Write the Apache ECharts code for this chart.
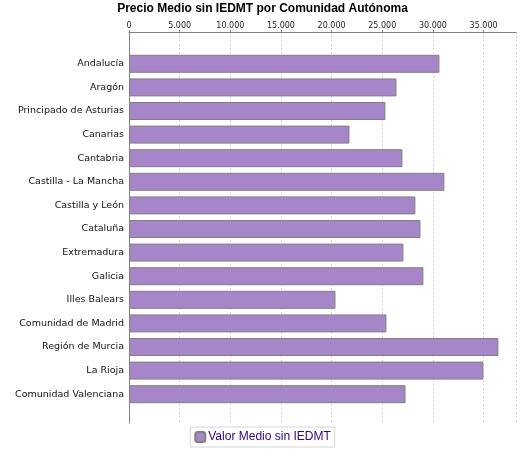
<!DOCTYPE html>
<html>
<head>
<meta charset="utf-8">
<script src="https://cdn.jsdelivr.net/npm/echarts@6/dist/echarts.min.js"></script>
<style>
  html, body { margin: 0; padding: 0; background: #fff; }
  #chart { width: 525px; height: 450px; }
</style>
</head>
<body>
<div id="chart"></div>
<script>
// datos
const comunidades = [
  'Andalucía', 'Aragón', 'Principado de Asturias', 'Canarias', 'Cantabria',
  'Castilla - La Mancha', 'Castilla y León', 'Cataluña', 'Extremadura', 'Galicia',
  'Illes Balears', 'Comunidad de Madrid', 'Región de Murcia', 'La Rioja', 'Comunidad Valenciana'
]
const precioMedio = [
  30640, 26400, 25310, 21760, 26990,
  31130, 28270, 28770, 27090, 29060,
  20380, 25410, 36460, 34980, 27290
]
const serieNombre = 'Valor Medio sin IEDMT'
const ejeMax = 38200
const ejeIntervalo = 5000

const chart = echarts.init(document.getElementById('chart'), null, { renderer: 'canvas' })

const fmt = v => v === 0 ? '0' : String(v).replace(/\B(?=(\d{3})+(?!\d))/g, '.')

chart.setOption({
  animation: false,
  backgroundColor: '#ffffff',
  title: {
    text: 'Precio Medio sin IEDMT por Comunidad Autónoma',
    left: 'center',
    top: 3,
    padding: 0,
    textStyle: { fontFamily: 'Liberation Sans', fontSize: 12, fontWeight: 'bold', color: '#000' }
  },
  legend: {
    data: [serieNombre],
    bottom: 3,
    left: 'center',
    itemWidth: 10,
    itemHeight: 10,
    itemGap: 4,
    padding: [4, 4, 4, 4],
    borderColor: '#d6d6d6',
    borderWidth: 1,
    textStyle: { fontFamily: 'Liberation Sans', fontSize: 12, color: '#330088', padding: [0, 0, 0, -2] }
  },
  grid: [
    // marco de ejes
    { left: 129, right: 9, top: 32, bottom: 27 },
    // barras
    { left: 129, right: 9, top: 52, bottom: 44 }
  ],
  xAxis: [
    {
      gridIndex: 0,
      type: 'value',
      position: 'top',
      min: 0,
      max: ejeMax,
      interval: ejeIntervalo,
      axisLine: { show: true, onZero: false, lineStyle: { color: '#808080' } },
      axisTick: { show: true, length: 2, lineStyle: { color: '#808080' } },
      axisLabel: {
        fontFamily: 'DejaVu Sans', fontSize: 8, color: '#222', margin: 2,
        formatter: fmt,
        showMaxLabel: false
      },
      splitLine: { show: true, lineStyle: { color: '#d4d4d4', type: [2, 2] } }
    },
    {
      gridIndex: 1,
      type: 'value',
      min: 0,
      max: ejeMax,
      show: false
    }
  ],
  yAxis: [
    {
      gridIndex: 0,
      type: 'value',
      min: 0,
      max: 1,
      axisLine: { show: true, onZero: false, lineStyle: { color: '#808080' } },
      axisTick: { show: false },
      axisLabel: { show: false },
      splitLine: { show: false }
    },
    {
      gridIndex: 1,
      type: 'category',
      inverse: true,
      data: comunidades,
      axisLine: { show: false },
      axisTick: { show: false },
      axisLabel: { fontFamily: 'DejaVu Sans', fontSize: 9.5, color: '#111', margin: 5 },
      splitLine: { show: false }
    }
  ],
  series: [
    {
      name: serieNombre,
      type: 'bar',
      xAxisIndex: 1,
      yAxisIndex: 1,
      data: precioMedio,
      barWidth: 18,
      itemStyle: { color: '#a686c8', borderColor: '#808080', borderWidth: 1 }
    }
  ]
})
</script>
</body>
</html>
